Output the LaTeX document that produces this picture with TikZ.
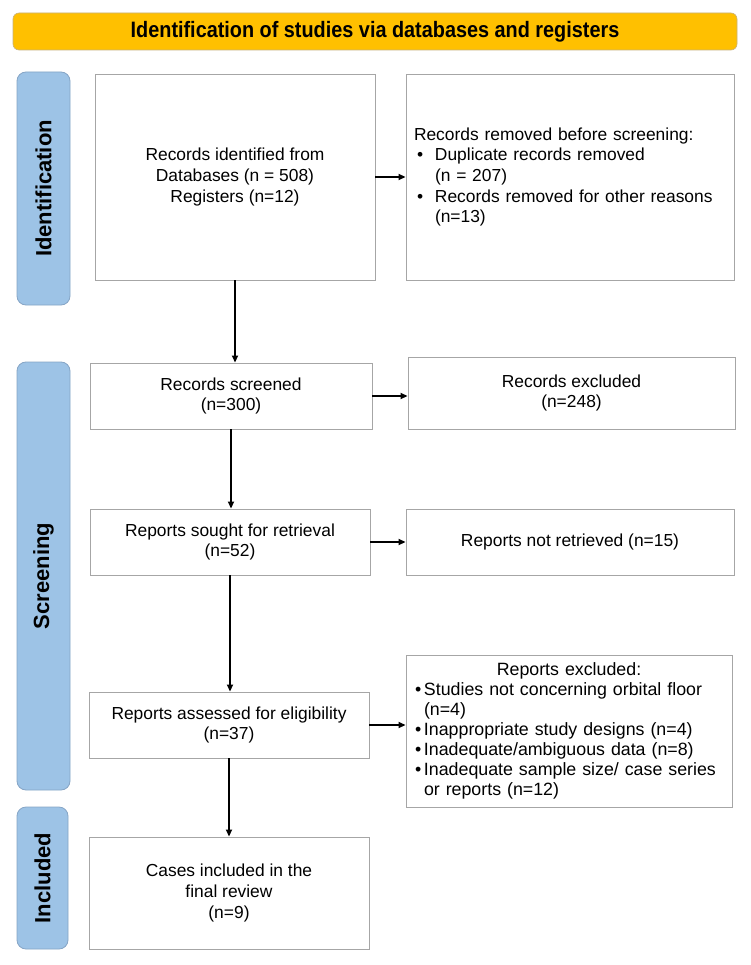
\documentclass[tikz,border=0pt]{standalone}
\usepackage{fontspec}
\setmainfont{Liberation Sans}
\newfontfamily\headfont[FakeStretch=0.89]{Liberation Sans}
\usetikzlibrary{arrows.meta, positioning, calc}
\definecolor{headyellow}{HTML}{FFC000}
\definecolor{headedge}{HTML}{C9B27A}
\definecolor{barblue}{HTML}{9DC3E6}
\definecolor{baredge}{HTML}{86A5C6}
\definecolor{boxgray}{HTML}{A6A6A6}
\newcommand{\bodyfont}{\fontsize{17.4}{20.7}\selectfont}
\newcommand{\barfont}{\fontsize{22}{26}\selectfont\bfseries}
\newcommand{\bitem}[2]{\makebox[#1][l]{\hspace{#2}\textbullet}}

\tikzset{
  flowbox/.style={draw=boxgray, line width=0.9pt, fill=white, inner sep=0pt, align=center, font=\bodyfont},
  phasebar/.style={draw=baredge, fill=barblue, rounded corners=9pt, line width=0.8pt, rotate=90, font=\barfont},
  arr/.style={-{Triangle[length=7pt,width=6pt]}, line width=1.8pt},
}

\begin{document}
\begin{tikzpicture}[x=1pt, y=-1pt]
  \useasboundingbox (0,0) rectangle (750,965);
  \fill[white] (0,0) rectangle (750,965);

  % title bar
  \node[draw=headedge, fill=headyellow, rounded corners=6pt, line width=0.6pt,
        minimum width=724pt, minimum height=37pt, inner sep=0pt,
        font=\headfont\fontsize{22.3}{26}\selectfont\bfseries] (head) at (375,31.5)
        {Identification of studies via databases and registers};

  % phase bars
  \node[phasebar, minimum width=233pt, minimum height=53pt] (idbar) at (43.5,188.5) {Identification};
  \node[phasebar, minimum width=428pt, minimum height=53pt] (scrbar) at (43.5,576) {Screening};
  \node[phasebar, minimum width=142pt, minimum height=51pt] (incbar) at (42.5,878) {Included};

  % main column
  \node[flowbox, minimum width=280pt, minimum height=206pt] (ident) at (235,177)
    {Records identified from\\ Databases (n = 508)\\ Registers (n=12)};
  \node[flowbox, minimum width=282pt, minimum height=66pt] (screened) at (231,396)
    {Records screened\\ (n=300)};
  \node[flowbox, minimum width=280pt, minimum height=66pt] (sought) at (230,542)
    {Reports sought for retrieval\\ (n=52)};
  \node[flowbox, minimum width=280pt, minimum height=66pt] (assessed) at (229,725)
    {Reports assessed for eligibility\\ (n=37)};
  \node[flowbox, minimum width=280pt, minimum height=112pt] (final) at (229,893)
    {Cases included in the\\ final review\\ (n=9)};

  % side column
  \node[flowbox, minimum width=328pt, minimum height=206pt, text width=312pt,
        align=left, inner xsep=8pt] (removed) at (570,177)
    {Records removed before screening:\\
     \bitem{21pt}{3pt}Duplicate records removed\\
     \hspace*{21pt}(n = 207)\\
     \bitem{21pt}{3pt}Records removed for other reasons\\
     \hspace*{21pt}(n=13)};
  \node[flowbox, minimum width=327pt, minimum height=72pt] (excluded) at (571.5,393)
    {Records excluded\\ (n=248)};
  \node[flowbox, minimum width=328pt, minimum height=66pt] (notret) at (570,542)
    {Reports not retrieved (n=15)};
  \node[flowbox, minimum width=326pt, minimum height=152pt, text width=314pt,
        align=left, inner xsep=6pt, font=\fontsize{17.8}{19.9}\selectfont] (repexcl) at (569,731)
    {\makebox[314pt]{Reports excluded:}\\
     \bitem{12pt}{3pt}Studies not concerning orbital floor\\
     \hspace*{12pt}(n=4)\\
     \bitem{12pt}{3pt}Inappropriate study designs (n=4)\\
     \bitem{12pt}{3pt}Inadequate/ambiguous data (n=8)\\
     \bitem{12pt}{3pt}Inadequate sample size/ case series\\
     \hspace*{12pt}or reports (n=12)};

  % connectors
  \draw[arr] (ident.south) -- (ident.south |- screened.north);
  \draw[arr] (screened.south) -- (screened.south |- sought.north);
  \draw[arr] (sought.south) -- (sought.south |- assessed.north);
  \draw[arr] (assessed.south) -- (assessed.south |- final.north);

  \draw[arr] (ident.east) -- (ident.east -| removed.west);
  \draw[arr] (screened.east) -- (screened.east -| excluded.west);
  \draw[arr] (sought.east) -- (sought.east -| notret.west);
  \draw[arr] (assessed.east) -- (assessed.east -| repexcl.west);
\end{tikzpicture}
\end{document}
